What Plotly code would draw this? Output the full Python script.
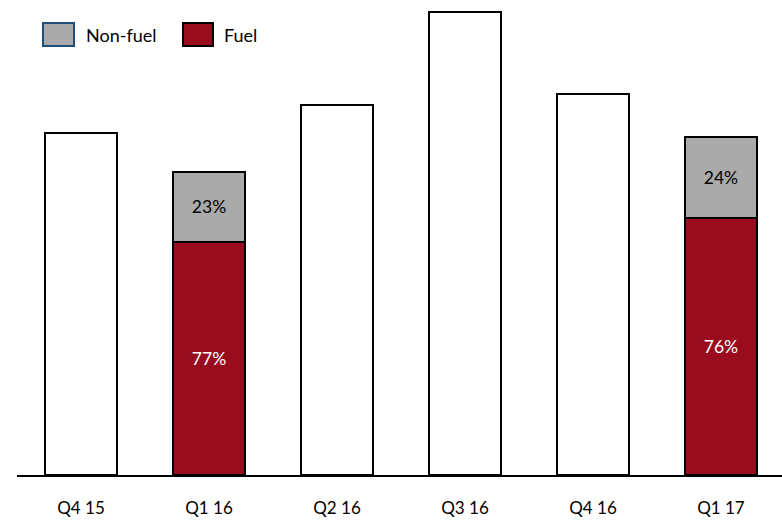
import plotly.graph_objects as go

quarters = ["Q4 15", "Q1 16", "Q2 16", "Q3 16", "Q4 16", "Q1 17"]
totals = [342, 303, 370, 463, 381, 338]
fuel_share = [None, 0.77, None, None, None, 0.76]
fuel_labels = ["", "77%", "", "", "", "76%"]
nonfuel_labels = ["", "23%", "", "", "", "24%"]

FONT = "Lato"
RED = "#990C1E"
GRAY = "#AAAAAA"

blank = [t if s is None else None for t, s in zip(totals, fuel_share)]
fuel = [t * s if s is not None else None for t, s in zip(totals, fuel_share)]
nonfuel = [t * (1 - s) if s is not None else None for t, s in zip(totals, fuel_share)]

fig = go.Figure()
fig.add_trace(go.Bar(x=quarters, y=blank, marker=dict(color="white", line=dict(color="black", width=2)),
                     width=0.56, showlegend=False, hoverinfo="skip"))
fig.add_trace(go.Bar(x=quarters, y=fuel, name="Fuel", text=fuel_labels, textposition="inside",
                     insidetextanchor="middle", textfont=dict(color="white", size=17.5, family=FONT),
                     marker=dict(color=RED, line=dict(color="black", width=2)), width=0.56, showlegend=False))
fig.add_trace(go.Bar(x=quarters, y=nonfuel, name="Non-fuel", text=nonfuel_labels, textposition="inside",
                     insidetextanchor="middle", textfont=dict(color="black", size=17.5, family=FONT),
                     marker=dict(color=GRAY, line=dict(color="black", width=2)), width=0.56, showlegend=False))

# legend drawn manually
fig.add_shape(type="rect", xref="paper", yref="paper", x0=(43-17)/765, x1=(74-17)/765,
              y0=(475-46)/475, y1=(475-23)/475, fillcolor=GRAY, line=dict(color="#1F4E79", width=2))
fig.add_shape(type="rect", xref="paper", yref="paper", x0=(183-17)/765, x1=(213-17)/765,
              y0=(475-46)/475, y1=(475-23)/475, fillcolor=RED, line=dict(color="black", width=2))
fig.add_annotation(xref="paper", yref="paper", x=(84-17)/765, y=(475-35)/475, text="Non-fuel",
                   showarrow=False, xanchor="left", yanchor="middle", font=dict(size=18, family=FONT, color="black"))
fig.add_annotation(xref="paper", yref="paper", x=(222-17)/765, y=(475-35)/475, text="Fuel",
                   showarrow=False, xanchor="left", yanchor="middle", font=dict(size=18, family=FONT, color="black"))

fig.update_layout(
    barmode="stack", width=782, height=526,
    margin=dict(l=17, r=0, t=0, b=51),
    plot_bgcolor="white", paper_bgcolor="white",
    font=dict(family=FONT, size=17, color="black"),
    xaxis=dict(type="category", range=[-0.5, 5.477], showline=True, linecolor="black", linewidth=2,
               ticks="outside", ticklen=17, tickcolor="rgba(0,0,0,0)", showgrid=False,
               tickfont=dict(size=17, family=FONT, color="black")),
    yaxis=dict(range=[0, 475], visible=False, showgrid=False, zeroline=False),
    uniformtext=dict(minsize=10, mode="show"),
)
fig.write_html("out.html")
